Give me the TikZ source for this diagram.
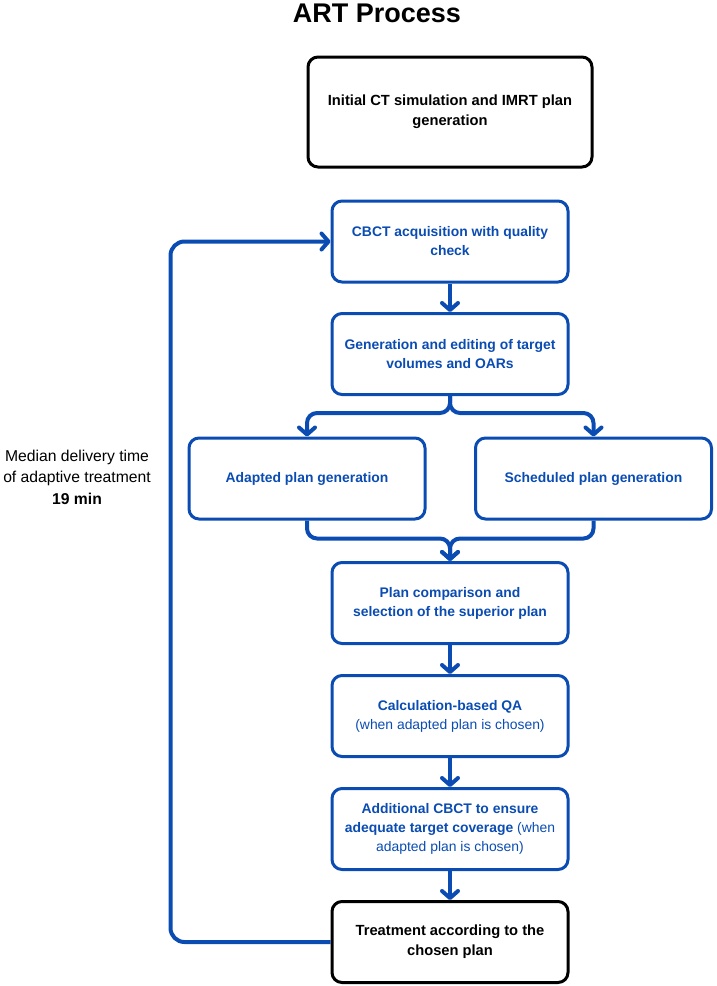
\documentclass[tikz,border=0pt]{standalone}
\usepackage{fontspec}
\setmainfont{Liberation Sans}
\usetikzlibrary{arrows.meta,positioning}
\definecolor{artblue}{RGB}{10,76,178}

\begin{document}
\begin{tikzpicture}[x=1pt, y=-1pt,
  box/.style={draw, rounded corners=10pt, line width=3pt, align=center,
    minimum width=236pt, minimum height=81pt, inner sep=2pt},
  bluebox/.style={box, draw=artblue, text=artblue,
    font=\fontsize{13.9}{19}\selectfont\bfseries},
  blackbox/.style={box, draw=black, text=black,
    font=\fontsize{14.7}{20}\selectfont\bfseries},
  flow/.style={draw=artblue, line width=4pt, rounded corners=10pt,
    -{Straight Barb[length=7pt,width=16pt,round]}}]
  \useasboundingbox (0,0) rectangle (716,986);

  % Title
  \node[anchor=base, font=\fontsize{27}{32}\selectfont\bfseries] (title) at (377,22) {ART Process};

  % Nodes
  \node[blackbox, minimum width=284pt, minimum height=110pt] (init) at (450,112)
    {Initial CT simulation and IMRT plan\\generation};
  \node[bluebox] (cbct)  at (450,241.5) {CBCT acquisition with quality\\check};
  \node[bluebox] (gen)   at (450,354)   {Generation and editing of target\\volumes and OARs};
  \node[bluebox] (adapt) at (307,478.5) {Adapted plan generation};
  \node[bluebox] (sched) at (593.5,478.5) {Scheduled plan generation};
  \node[bluebox] (comp)  at (450,603)   {Plan comparison and\\selection of the superior plan};
  \node[bluebox] (qa)    at (450,716)
    {Calculation-based QA\\{\mdseries (when adapted plan is chosen)}};
  \node[bluebox] (extra) at (450,829)
    {Additional CBCT to ensure\\adequate target coverage {\mdseries (when}\\{\mdseries adapted plan is chosen)}};
  \node[blackbox] (treat) at (450,942) {Treatment according to the\\chosen plan};

  % Side note
  \node[align=center, font=\fontsize{15.7}{21.5}\selectfont] (note) at (77,477)
    {Median delivery time\\of adaptive treatment\\\textbf{19 min}};

  % Edges
  \draw[flow] (cbct) -- (gen);
  \draw[flow] (gen.south) -- ++(0,17) -| (adapt.north);
  \draw[flow] (gen.south) -- ++(0,17) -| (sched.north);
  \draw[flow] (adapt.south) -- ++(0,18) -| (comp.north);
  \draw[flow] (sched.south) -- ++(0,18) -| (comp.north);
  \draw[flow] (comp) -- (qa);
  \draw[flow] (qa) -- (extra);
  \draw[flow] (extra) -- (treat);

  % Loop back for the next fraction
  \draw[flow, rounded corners=14pt] (treat.west) -- ++(-160,0) |- (cbct.west);
\end{tikzpicture}
\end{document}
